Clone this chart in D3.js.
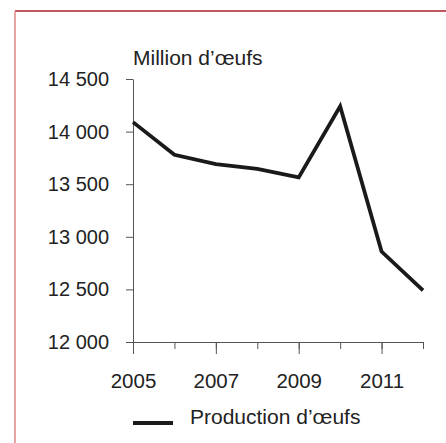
<!DOCTYPE html>
<html>
<head>
<meta charset="utf-8">
<script src="https://cdn.jsdelivr.net/npm/d3@7"></script>
<style>
  body { margin: 0; background: #fff; }
  svg { display: block; font-family: "Liberation Sans", Arial, sans-serif; }
</style>
</head>
<body>
<div id="chart"></div>
<script>
const years = [2005, 2006, 2007, 2008, 2009, 2010, 2011, 2012]
const production = [14090, 13780, 13690, 13645, 13565, 14240, 12860, 12490]
const yTicks = [12000, 12500, 13000, 13500, 14000, 14500]
const xLabelYears = [2005, 2007, 2009, 2011]
const unitLabel = "Million d\u2019\u0153ufs"
const seriesName = "Production d\u2019\u0153ufs"

const width = 446, height = 443
const margin = {top: 79, right: 23, bottom: 101, left: 133}

const svg = d3.select("#chart").append("svg")
  .attr("width", width)
  .attr("height", height)

// frame
svg.append("line")
  .attr("x1", 15).attr("x2", width).attr("y1", 11).attr("y2", 11)
  .attr("stroke", "#a8222a").attr("stroke-width", 1.5)
svg.append("line")
  .attr("x1", 15).attr("x2", 15).attr("y1", 11).attr("y2", height)
  .attr("stroke", "#e08585").attr("stroke-width", 1.5)

let x = d3.scaleLinear()
  .domain([2005, 2012])
  .range([margin.left, width - margin.right])

let y = d3.scaleLinear()
  .domain([12000, 14500])
  .range([height - margin.bottom, margin.top])

const fmt = d => d3.format(",")(d).replace(",", " ")

// y axis
let yAxis = svg.append("g")
  .attr("transform", `translate(${margin.left},0)`)
  .call(d3.axisLeft(y).tickValues(yTicks).tickFormat(fmt).tickSize(7).tickSizeOuter(0).tickPadding(17))
yAxis.selectAll("text").attr("font-size", 20).attr("fill", "#222").attr("font-family", null)

// x axis: minor ticks for every year, long ticks + labels for odd years
let xAxisMinor = svg.append("g")
  .attr("transform", `translate(0,${y(12000)})`)
  .call(d3.axisBottom(x).tickValues(years).tickFormat("").tickSize(7).tickSizeOuter(0))

let xAxis = svg.append("g")
  .attr("transform", `translate(0,${y(12000)})`)
  .call(d3.axisBottom(x).tickValues(xLabelYears).tickFormat(d3.format("d")).tickSize(12).tickSizeOuter(0).tickPadding(19))
xAxis.selectAll("text").attr("font-size", 20.5).attr("fill", "#222").attr("font-family", null)

svg.selectAll(".domain, .tick line").attr("stroke", "#555")

// unit label
svg.append("text")
  .attr("x", margin.left)
  .attr("y", 65)
  .attr("font-size", 21)
  .attr("fill", "#222")
  .text(unitLabel)

// series line
let line = d3.line()
  .x((d, i) => x(years[i]))
  .y(d => y(d))

svg.append("path")
  .datum(production)
  .attr("fill", "none")
  .attr("stroke", "#1a1a1a")
  .attr("stroke-width", 3.8)
  .attr("stroke-linejoin", "miter")
  .attr("d", line)

// legend
svg.append("line")
  .attr("x1", 133).attr("x2", 173).attr("y1", 423).attr("y2", 423)
  .attr("stroke", "#1a1a1a").attr("stroke-width", 4)
svg.append("text")
  .attr("x", 190)
  .attr("y", 424)
  .attr("font-size", 21)
  .attr("fill", "#222")
  .text(seriesName)
</script>
</body>
</html>
